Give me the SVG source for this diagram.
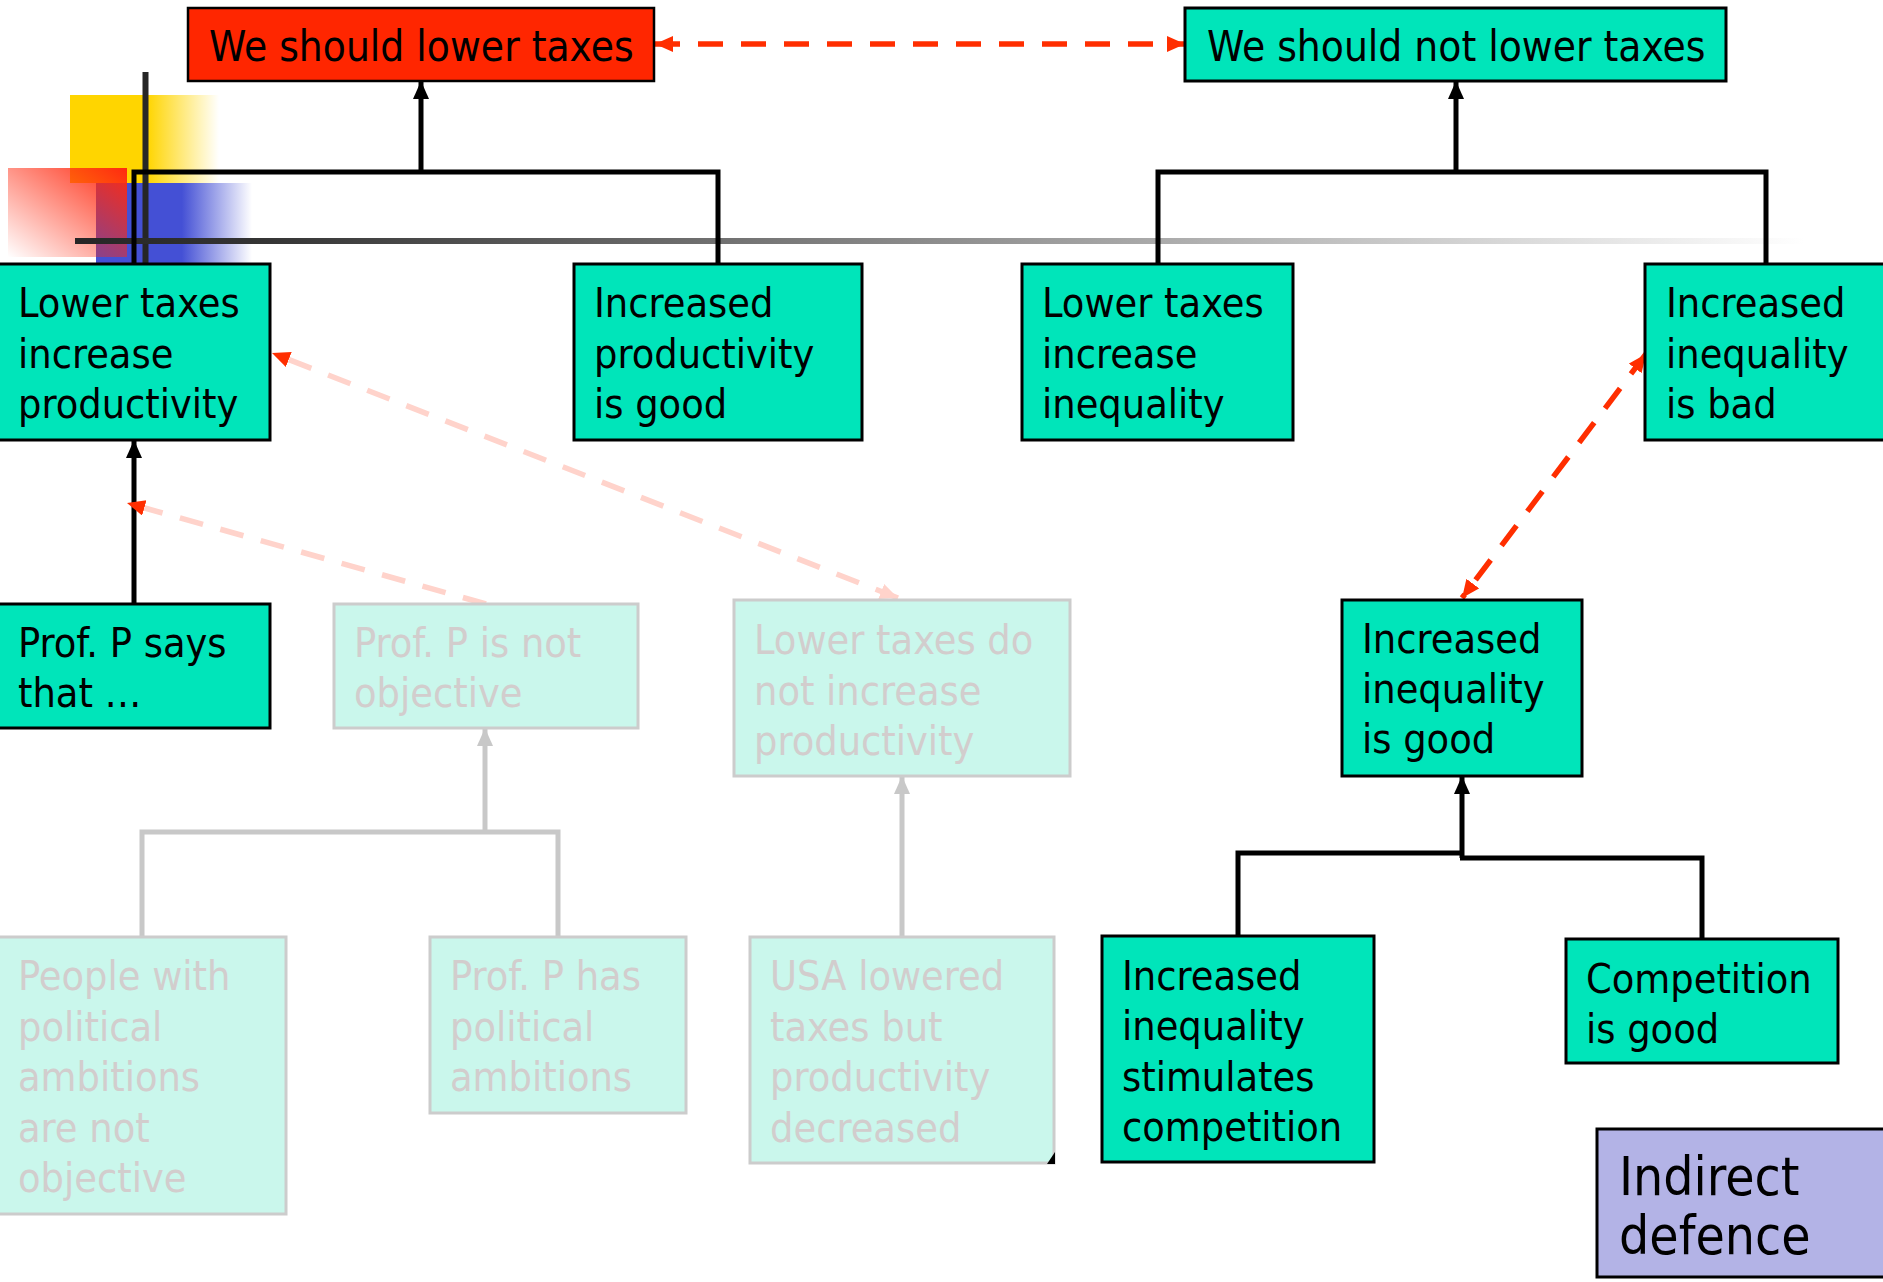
<svg xmlns="http://www.w3.org/2000/svg" width="1883" height="1282" viewBox="0 0 1883 1282">
  <style>
    text { font-family: "DejaVu Sans Condensed", "DejaVu Sans", sans-serif; font-stretch: condensed; font-size: 41px; fill: #000; }
    .node rect { fill: #00E5BA; stroke: #000; stroke-width: 3; }
    .main rect { fill: #FF2600; stroke: #000; stroke-width: 2.5; }
    .title text { font-size: 42px; }
    .faded rect { fill: #CAF7EC; stroke: #CCCCCC; stroke-width: 3; }
    .faded text { fill: #D2CDCD; }
    .note rect { fill: #B3B3E6; stroke: #000; stroke-width: 3; }
    .note text { font-size: 53px; }
    .link { fill: none; stroke: #000; stroke-width: 5; }
    .link-faded { fill: none; stroke: #C8C8C8; stroke-width: 5; }
    .attack { fill: none; stroke: #FF2E00; stroke-width: 5.5; stroke-dasharray: 25 18; }
    .attack-faded { fill: none; stroke: #FFD3CB; stroke-width: 5.5; stroke-dasharray: 24 18; }
  </style>
  <defs>
    <marker id="arrow" markerUnits="userSpaceOnUse" markerWidth="20" markerHeight="18" refX="18" refY="8" orient="auto">
      <path d="M0,0 L18,8 L0,16 z" fill="#000"/>
    </marker>
    <marker id="arrow-faded" markerUnits="userSpaceOnUse" markerWidth="20" markerHeight="18" refX="18" refY="8" orient="auto">
      <path d="M0,0 L18,8 L0,16 z" fill="#C8C8C8"/>
    </marker>
    <marker id="attack-head" markerUnits="userSpaceOnUse" markerWidth="20" markerHeight="18" refX="18" refY="8" orient="auto-start-reverse">
      <path d="M0,0 L18,8 L0,16 z" fill="#FF2E00"/>
    </marker>
    <marker id="attack-head-faded" markerUnits="userSpaceOnUse" markerWidth="20" markerHeight="18" refX="18" refY="8" orient="auto-start-reverse">
      <path d="M0,0 L18,8 L0,16 z" fill="#FFD3CB"/>
    </marker>
    <linearGradient id="g-yellow" gradientUnits="userSpaceOnUse" x1="70" y1="0" x2="219" y2="0">
      <stop offset="0" stop-color="#FFD500"/>
      <stop offset="0.52" stop-color="#FFD500"/>
      <stop offset="1" stop-color="#FFD500" stop-opacity="0"/>
    </linearGradient>
    <linearGradient id="g-blue" gradientUnits="userSpaceOnUse" x1="96" y1="0" x2="252" y2="0">
      <stop offset="0" stop-color="#4450D5"/>
      <stop offset="0.55" stop-color="#4450D5"/>
      <stop offset="1" stop-color="#4450D5" stop-opacity="0"/>
    </linearGradient>
    <linearGradient id="g-red" x1="0" y1="1" x2="1" y2="0">
      <stop offset="0" stop-color="#FF2A10" stop-opacity="0"/>
      <stop offset="1" stop-color="#FF2A10"/>
    </linearGradient>
    <linearGradient id="g-rule" gradientUnits="userSpaceOnUse" x1="75" y1="0" x2="1805" y2="0">
      <stop offset="0" stop-color="#262626"/>
      <stop offset="0.1" stop-color="#333333"/>
      <stop offset="1" stop-color="#FFFFFF"/>
    </linearGradient>
  </defs>

  <!-- slide template ornament -->
  <g id="ornament">
    <rect x="70" y="95" width="149" height="88" fill="url(#g-yellow)"/>
    <rect x="96" y="183" width="156" height="81" fill="url(#g-blue)"/>
    <rect x="8" y="168" width="119" height="89" fill="url(#g-red)"/>
    <rect x="142.5" y="72" width="6" height="192" fill="#262626"/>
    <rect x="75" y="238" width="1730" height="6" fill="url(#g-rule)"/>
  </g>

  <!-- connectors -->
  <g id="connectors">
    <!-- support for "We should lower taxes" -->
    <polyline class="link" points="134,264 134,172 718,172 718,264"/>
    <line class="link" x1="421" y1="172" x2="421" y2="81" marker-end="url(#arrow)"/>
    <!-- support for "We should not lower taxes" -->
    <polyline class="link" points="1158,264 1158,172 1766,172 1766,264"/>
    <line class="link" x1="1456" y1="172" x2="1456" y2="81" marker-end="url(#arrow)"/>
    <!-- Prof. P says that ... -->
    <line class="link" x1="134" y1="604" x2="134" y2="440" marker-end="url(#arrow)"/>
    <!-- support for "Increased inequality is good" -->
    <polyline class="link" points="1238,936 1238,853 1462,853"/>
    <polyline class="link" points="1460,858 1702,858 1702,939"/>
    <line class="link" x1="1462" y1="858" x2="1462" y2="776" marker-end="url(#arrow)"/>
    <!-- faded support trees -->
    <polyline class="link-faded" points="142,937 142,832 558,832 558,937"/>
    <line class="link-faded" x1="485" y1="832" x2="485" y2="728" marker-end="url(#arrow-faded)"/>
    <line class="link-faded" x1="902" y1="937" x2="902" y2="776" marker-end="url(#arrow-faded)"/>
    <!-- attacks -->
    <line class="attack" x1="655" y1="44" x2="1185" y2="44" marker-start="url(#attack-head)" marker-end="url(#attack-head)"/>
    <line class="attack" x1="1646" y1="354" x2="1462" y2="598" marker-start="url(#attack-head)" marker-end="url(#attack-head)"/>
    <line class="attack-faded" x1="486" y1="604" x2="127" y2="503" marker-end="url(#attack-head)"/>
    <line class="attack-faded" x1="898" y1="598" x2="272" y2="353" marker-start="url(#attack-head-faded)" marker-end="url(#attack-head)"/>
  </g>

  <!-- claims -->
  <g id="n-lower" class="main title">
    <rect x="188" y="8" width="466" height="73"/>
    <text x="209" y="61">We should lower taxes</text>
  </g>
  <g id="n-not-lower" class="node title">
    <rect x="1185" y="8" width="541" height="73"/>
    <text x="1207" y="61">We should not lower taxes</text>
  </g>

  <g id="n-lt-prod" class="node">
    <rect x="-3" y="264" width="273" height="176"/>
    <text><tspan x="18" y="317">Lower taxes</tspan><tspan x="18" y="368">increase</tspan><tspan x="18" y="418">productivity</tspan></text>
  </g>
  <g id="n-prod-good" class="node">
    <rect x="574" y="264" width="288" height="176"/>
    <text><tspan x="594" y="317">Increased</tspan><tspan x="594" y="368">productivity</tspan><tspan x="594" y="418">is good</tspan></text>
  </g>
  <g id="n-lt-ineq" class="node">
    <rect x="1022" y="264" width="271" height="176"/>
    <text><tspan x="1042" y="317">Lower taxes</tspan><tspan x="1042" y="368">increase</tspan><tspan x="1042" y="418">inequality</tspan></text>
  </g>
  <g id="n-ineq-bad" class="node">
    <rect x="1645" y="264" width="250" height="176"/>
    <text><tspan x="1666" y="317">Increased</tspan><tspan x="1666" y="368">inequality</tspan><tspan x="1666" y="418">is bad</tspan></text>
  </g>

  <g id="n-prof-says" class="node">
    <rect x="-3" y="604" width="273" height="124"/>
    <text><tspan x="18" y="657">Prof. P says</tspan><tspan x="18" y="707">that …</tspan></text>
  </g>
  <g id="n-prof-not-obj" class="faded">
    <rect x="334" y="604" width="304" height="124"/>
    <text><tspan x="354" y="657">Prof. P is not</tspan><tspan x="354" y="707">objective</tspan></text>
  </g>
  <g id="n-lt-not-prod" class="faded">
    <rect x="734" y="600" width="336" height="176"/>
    <text><tspan x="754" y="654">Lower taxes do</tspan><tspan x="754" y="705">not increase</tspan><tspan x="754" y="755">productivity</tspan></text>
  </g>
  <g id="n-ineq-good" class="node">
    <rect x="1342" y="600" width="240" height="176"/>
    <text><tspan x="1362" y="653">Increased</tspan><tspan x="1362" y="703">inequality</tspan><tspan x="1362" y="753">is good</tspan></text>
  </g>

  <g id="n-people" class="faded">
    <rect x="-3" y="937" width="289" height="277"/>
    <text><tspan x="18" y="990">People with</tspan><tspan x="18" y="1041">political</tspan><tspan x="18" y="1091">ambitions</tspan><tspan x="18" y="1142">are not</tspan><tspan x="18" y="1192">objective</tspan></text>
  </g>
  <g id="n-prof-ambitions" class="faded">
    <rect x="430" y="937" width="256" height="176"/>
    <text><tspan x="450" y="990">Prof. P has</tspan><tspan x="450" y="1041">political</tspan><tspan x="450" y="1091">ambitions</tspan></text>
  </g>
  <g id="n-usa" class="faded">
    <rect x="750" y="937" width="304" height="226"/>
    <text><tspan x="770" y="990">USA lowered</tspan><tspan x="770" y="1041">taxes but</tspan><tspan x="770" y="1091">productivity</tspan><tspan x="770" y="1142">decreased</tspan></text>
    <polygon points="1047,1164 1055,1164 1055,1152" fill="#000"/>
  </g>
  <g id="n-stimulates" class="node">
    <rect x="1102" y="936" width="272" height="226"/>
    <text><tspan x="1122" y="990">Increased</tspan><tspan x="1122" y="1040">inequality</tspan><tspan x="1122" y="1091">stimulates</tspan><tspan x="1122" y="1141">competition</tspan></text>
  </g>
  <g id="n-competition" class="node">
    <rect x="1566" y="939" width="272" height="124"/>
    <text><tspan x="1586" y="993">Competition</tspan><tspan x="1586" y="1043">is good</tspan></text>
  </g>

  <g id="n-label" class="note">
    <rect x="1597" y="1129" width="296" height="148"/>
    <text><tspan x="1619" y="1195">Indirect</tspan><tspan x="1619" y="1254">defence</tspan></text>
  </g>
</svg>
